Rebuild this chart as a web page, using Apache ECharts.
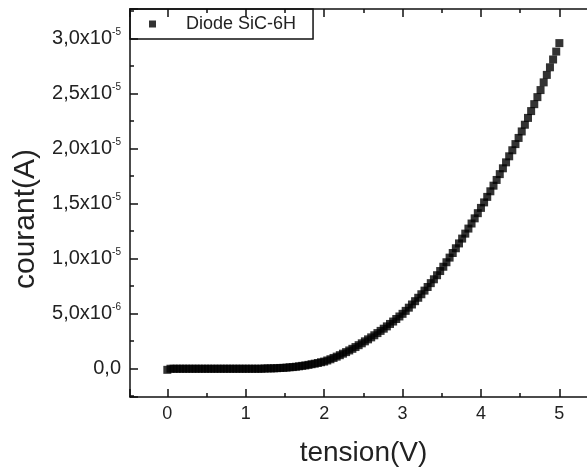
<!DOCTYPE html>
<html>
<head>
<meta charset="utf-8">
<script src="https://cdn.jsdelivr.net/npm/echarts@6/dist/echarts.min.js"></script>
<style>
html,body{margin:0;padding:0;background:#fff;overflow:hidden;}
#chart{width:587px;height:469px;}
</style>
</head>
<body>
<div id="chart"></div>
<script>
// Data
const seriesName = 'Diode SiC-6H';
const xAxisTitle = 'tension(V)';
const yAxisTitle = 'courant(A)';

// tension (V)
const tension = [
  0.00,0.04,0.08,0.12,0.16,0.20,0.24,0.28,0.32,0.36,
  0.40,0.44,0.48,0.52,0.56,0.60,0.64,0.68,0.72,0.76,
  0.80,0.84,0.88,0.92,0.96,1.00,1.04,1.08,1.12,1.16,
  1.20,1.24,1.28,1.32,1.36,1.40,1.44,1.48,1.52,1.56,
  1.60,1.64,1.68,1.72,1.76,1.80,1.84,1.88,1.92,1.96,
  2.00,2.04,2.08,2.12,2.16,2.20,2.24,2.28,2.32,2.36,
  2.40,2.44,2.48,2.52,2.56,2.60,2.64,2.68,2.72,2.76,
  2.80,2.84,2.88,2.92,2.96,3.00,3.04,3.08,3.12,3.16,
  3.20,3.24,3.28,3.32,3.36,3.40,3.44,3.48,3.52,3.56,
  3.60,3.64,3.68,3.72,3.76,3.80,3.84,3.88,3.92,3.96,
  4.00,4.04,4.08,4.12,4.16,4.20,4.24,4.28,4.32,4.36,
  4.40,4.44,4.48,4.52,4.56,4.60,4.64,4.68,4.72,4.76,
  4.80,4.84,4.88,4.92,4.96,5.00
];

// courant in microamperes (µA)
const courant_uA = [
  -0.10,0,0,0,0,0,0,0,0,0,
  0,0,0,0,0,0,0,0,0,0,
  0,0,0,0,0,0,0,0,0,0,
  0,0.02,0.03,0.03,0.04,0.05,0.07,0.08,0.10,0.13,
  0.15,0.18,0.22,0.26,0.30,0.35,0.41,0.46,0.52,0.59,
  0.65,0.75,0.86,0.98,1.10,1.23,1.37,1.51,1.66,1.81,
  1.97,2.14,2.31,2.49,2.67,2.85,3.04,3.24,3.44,3.64,
  3.85,4.07,4.29,4.52,4.75,4.99,5.26,5.55,5.84,6.14,
  6.45,6.77,7.10,7.43,7.78,8.13,8.50,8.88,9.27,9.68,
  10.10,10.52,10.95,11.39,11.83,12.28,12.74,13.20,13.67,14.14,
  14.62,15.12,15.62,16.13,16.64,17.16,17.69,18.22,18.76,19.31,
  19.86,20.42,20.98,21.57,22.18,22.80,23.42,24.05,24.69,25.33,
  26.03,26.71,27.40,28.11,28.83,29.60
];

const xTickLabels = ['0','1','2','3','4','5'];
const yTickLabels = ['0,0','5,0x10-6','1,0x10-5','1,5x10-5','2,0x10-5','2,5x10-5','3,0x10-5'];

const points = tension.map((v, i) => [v, courant_uA[i] * 1e-6]);

function yLabel(v) {
  const k = v / 5e-6;
  const n = Math.round(k);
  if (Math.abs(k - n) > 1e-6 || n < 0 || n >= yTickLabels.length) return '';
  const t = yTickLabels[n];
  const idx = t.indexOf('x10');
  if (idx < 0) return '{m|' + t + '}';
  return '{m|' + t.slice(0, idx + 3) + '}{s|' + t.slice(idx + 3) + '}';
}
function xLabel(v) {
  const n = Math.round(v);
  if (Math.abs(v - n) > 1e-6 || n < 0 || n >= xTickLabels.length) return '';
  return xTickLabels[n];
}

const font = 'Liberation Sans, Arial, sans-serif';
const axisLineStyle = { color: '#111', width: 1.5 };

const chart = echarts.init(document.getElementById('chart'), null, { renderer: 'canvas' });
chart.setOption({
  animation: false,
  backgroundColor: '#fff',
  textStyle: { fontFamily: font },
  grid: { left: 130, top: 9, bottom: 72, width: 467, containLabel: false, outerBoundsMode: 'none' },
  legend: {
    data: [seriesName],
    left: 130, top: 9,
    orient: 'horizontal',
    padding: [6, 17, 6, 19],
    borderColor: '#111', borderWidth: 1.5, borderRadius: 0,
    itemWidth: 7, itemHeight: 7, icon: 'rect',
    formatter: '{t|{name}}',
    textStyle: {
      color: '#222', fontFamily: font, fontSize: 18,
      rich: { t: { fontSize: 18, lineHeight: 18, fontFamily: font, color: '#222', padding: [0, 0, 0, 25] } }
    }
  },
  xAxis: [{
    type: 'value', position: 'bottom',
    min: -0.476, max: 5.48, minInterval: 1, maxInterval: 1,
    splitLine: { show: false },
    axisLine: { show: true, onZero: false, lineStyle: axisLineStyle },
    axisTick: { show: true, inside: true, length: 8, lineStyle: axisLineStyle },
    minorTick: { show: true, splitNumber: 2, length: 4, lineStyle: axisLineStyle },
    axisLabel: { formatter: xLabel, color: '#222', fontSize: 18, margin: 8, fontFamily: font },
    name: xAxisTitle, nameLocation: 'middle', nameGap: 42,
    nameTextStyle: { fontSize: 28, color: '#222', fontFamily: font }
  }, {
    type: 'value', position: 'top',
    min: -0.476, max: 5.48, minInterval: 1, maxInterval: 1,
    splitLine: { show: false },
    axisLine: { show: true, onZero: false, lineStyle: axisLineStyle },
    axisTick: { show: true, inside: true, length: 8, lineStyle: axisLineStyle },
    minorTick: { show: true, splitNumber: 2, length: 4, lineStyle: axisLineStyle },
    axisLabel: { show: false }
  }],
  yAxis: [{
    type: 'value', position: 'left',
    min: -2.57e-6, max: 3.27e-5, minInterval: 5e-6, maxInterval: 5e-6,
    splitLine: { show: false },
    axisLine: { show: true, onZero: false, lineStyle: axisLineStyle },
    axisTick: { show: true, inside: true, length: 8, lineStyle: axisLineStyle },
    minorTick: { show: true, splitNumber: 2, length: 4, lineStyle: axisLineStyle },
    axisLabel: {
      formatter: yLabel, margin: 9, color: '#222',
      rich: {
        m: { fontSize: 20, fontFamily: font, color: '#222', lineHeight: 22 },
        s: { fontSize: 10, fontFamily: font, color: '#222', lineHeight: 22, verticalAlign: 'top', padding: [0, 0, 6, 0] }
      }
    },
    name: yAxisTitle, nameLocation: 'middle', nameGap: 86, nameRotate: 90,
    nameTextStyle: { fontSize: 30, color: '#222', fontFamily: font, padding: [0, 32, 0, 0] }
  }],
  series: [{
    name: seriesName,
    type: 'scatter',
    xAxisIndex: 0, yAxisIndex: 0,
    symbol: 'rect', symbolSize: 8,
    itemStyle: { color: '#000' },
    data: points
  }]
});
</script>
</body>
</html>
